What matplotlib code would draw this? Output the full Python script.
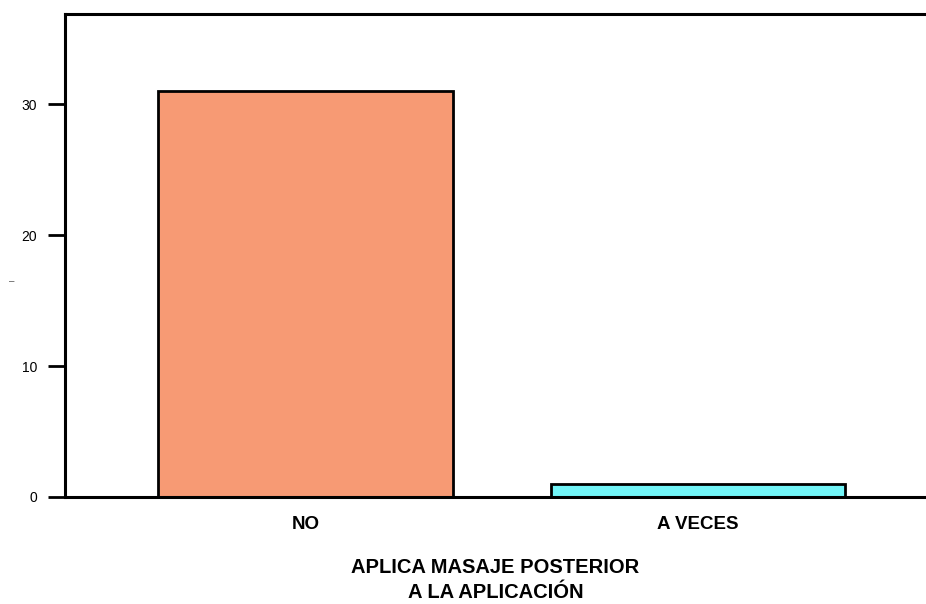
import matplotlib.pyplot as plt

plt.rcParams['font.family'] = ['Liberation Sans', 'DejaVu Sans']

categories = ['NO', 'A VECES']
counts = [31, 1]
bar_colors = ['#F79A74', '#72F5F8']

fig = plt.figure(figsize=(9.26, 6.04), dpi=100)
ax = fig.add_axes([0.0702, 0.1772, 0.9298, 0.7996])

ax.bar(range(len(categories)), counts, width=0.75, color=bar_colors,
       edgecolor='black', linewidth=2)

ax.set_xlim(-0.613, 1.581)
ax.set_ylim(0, 36.9)
ax.set_yticks([0, 10, 20, 30])
ax.set_xticks(range(len(categories)))
ax.set_xticklabels(categories, fontsize=13.5, fontweight='bold')

ax.tick_params(axis='y', length=12, width=2, labelsize=10, pad=8)
ax.tick_params(axis='x', length=0, pad=14)

for side in ['left', 'top', 'bottom']:
    ax.spines[side].set_linewidth(2.2)
ax.spines['right'].set_visible(False)

ax.set_xlabel('APLICA MASAJE POSTERIOR\nA LA APLICACIÓN', fontsize=14.5,
              fontweight='bold', labelpad=18, linespacing=1.4)
# small stray mark where the y axis title would sit
fig.text(12 / 926, 1 - 281 / 604, '–', fontsize=7, color='#555555',
         ha='center', va='center')

fig.savefig('out.png', dpi=100)
